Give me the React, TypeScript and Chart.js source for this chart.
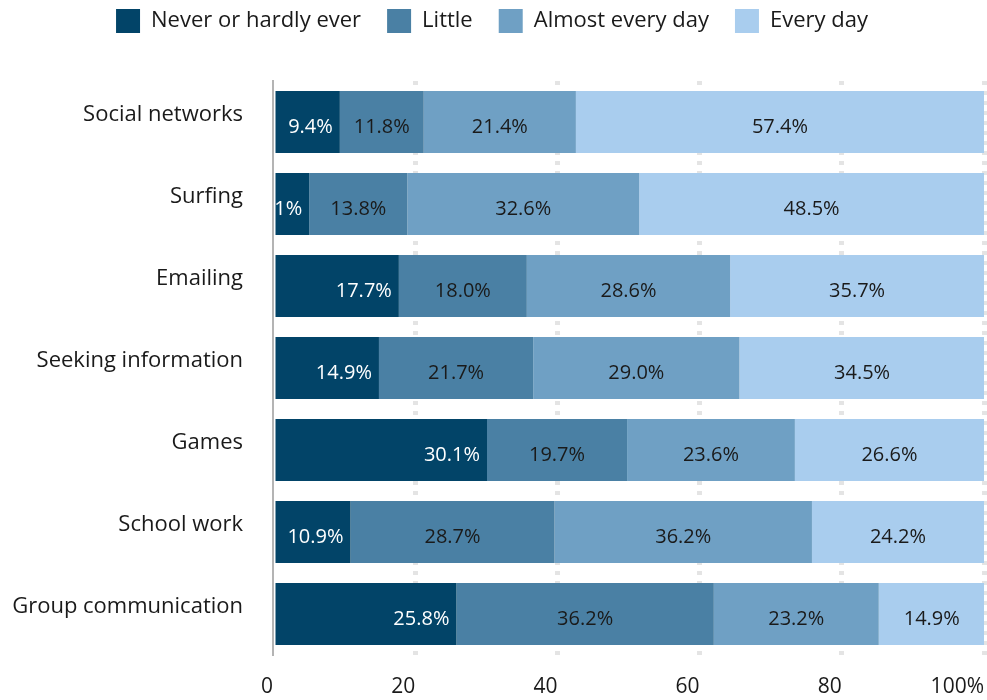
import React, { useEffect, useRef } from "react";
import { Chart, registerables } from "chart.js";

Chart.register(...registerables);

const categories = [
  "Social networks",
  "Surfing",
  "Emailing",
  "Seeking information",
  "Games",
  "School work",
  "Group communication",
];
const seriesNames = ["Never or hardly ever", "Little", "Almost every day", "Every day"];
const neverValues = [9.4, 5.1, 17.7, 14.9, 30.1, 10.9, 25.8];
const littleValues = [11.8, 13.8, 18.0, 21.7, 19.7, 28.7, 36.2];
const almostValues = [21.4, 32.6, 28.6, 29.0, 23.6, 36.2, 23.2];
const everyValues = [57.4, 48.5, 35.7, 34.5, 26.6, 24.2, 14.9];
const seriesColors = ["#024468", "#4a80a4", "#6fa0c4", "#a9cdee"];
const xTicks = [0, 20, 40, 60, 80, 100];

const FONT = "'Open Sans'";

const labelPlugin = {
  id: "segLabels",
  afterDatasetsDraw(chart: any) {
    const ctx = chart.ctx;
    const area = chart.chartArea;
    ctx.save();
    ctx.beginPath();
    ctx.rect(area.left, area.top, area.right - area.left, area.bottom - area.top);
    ctx.clip();
    ctx.font = `20px ${FONT}`;
    ctx.textBaseline = "middle";
    chart.data.datasets.forEach((ds: any, di: number) => {
      const meta = chart.getDatasetMeta(di);
      meta.data.forEach((bar: any, i: number) => {
        const v = ds.data[i];
        const text = v.toFixed(1) + "%";
        const left = Math.min(bar.x, bar.base);
        const right = Math.max(bar.x, bar.base);
        const y = bar.y + 5;
        if (di === 0) {
          ctx.fillStyle = "#ffffff";
          ctx.textAlign = "right";
          ctx.fillText(text, right - 7, y);
        } else {
          ctx.fillStyle = "#1a1a1a";
          ctx.textAlign = "center";
          ctx.fillText(text, (left + right) / 2, y);
        }
      });
    });
    ctx.restore();
  },
};

const legendSpacer = {
  id: "legendSpacer",
  beforeInit(chart: any) {
    const legend = chart.legend;
    if (!legend) return;
    const origFit = legend.fit;
    legend.fit = function () {
      origFit.bind(legend)();
      this.height += 38;
    };
  },
};

export default function App() {
  const ref = useRef<HTMLCanvasElement | null>(null);
  useEffect(() => {
    if (!ref.current) return;
    const values = [neverValues, littleValues, almostValues, everyValues];
    const chart = new Chart(ref.current, {
      type: "bar",
      data: {
        labels: categories,
        datasets: seriesNames.map((name, k) => ({
          label: name,
          data: values[k],
          backgroundColor: seriesColors[k],
          borderWidth: 0,
          categoryPercentage: 1,
          barPercentage: 0.756,
        })),
      },
      options: {
        indexAxis: "y",
        animation: false,
        responsive: true,
        maintainAspectRatio: false,
        layout: { padding: { left: 0, right: 3, top: 0, bottom: 0 } },
        plugins: {
          tooltip: { enabled: false },
          legend: {
            position: "top",
            align: "center",
            labels: {
              boxWidth: 24,
              boxHeight: 24,
              padding: 26,
              color: "#1a1a1a",
              font: { family: FONT, size: 22 },
            },
          },
        },
        scales: {
          x: {
            stacked: true,
            min: 0,
            max: 100,
            afterBuildTicks: (scale: any) => {
              scale.ticks = xTicks.map((v) => ({ value: v }));
            },
            afterFit: (scale: any) => {
              scale.height = 45;
              scale.paddingLeft = 0;
              scale.paddingRight = 0;
            },
            ticks: {
              align: "end",
              padding: 19,
              color: "#1a1a1a",
              font: { family: FONT, size: 21 },
              maxRotation: 0,
              callback: (v: any) => (v === 100 ? "100%" : String(v)),
            },
            grid: {
              drawTicks: false,
              lineWidth: 5,
              color: (c: any) => (c.tick && c.tick.value === 0 ? "rgba(0,0,0,0)" : "#e4e4e4"),
            },
            border: { display: false, dash: [4, 6] },
          },
          y: {
            stacked: true,
            afterFit: (scale: any) => {
              scale.width = 273;
            },
            ticks: {
              padding: 30,
              labelOffset: -7,
              color: "#1a1a1a",
              font: { family: FONT, size: 22 },
            },
            grid: { display: false, drawTicks: false },
            border: { display: true, color: "#b4b4b4", width: 2 },
          },
        },
      },
      plugins: [labelPlugin, legendSpacer],
    } as any);
    return () => chart.destroy();
  }, []);
  return (
    <div style={{ position: "fixed", left: 0, top: -17, width: 987, height: 717, background: "#fff" }}>
      <canvas ref={ref} />
    </div>
  );
}
